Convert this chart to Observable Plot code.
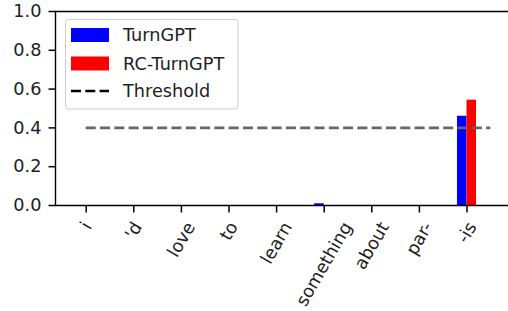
<!DOCTYPE html>
<html>
<head>
<meta charset="utf-8">
<script src="https://cdn.jsdelivr.net/npm/d3@7"></script>
<script src="https://cdn.jsdelivr.net/npm/@observablehq/plot@0.6"></script>
<style>
  html, body { margin: 0; padding: 0; background: #fff; }
  #wrap { position: relative; width: 508px; height: 311px; overflow: hidden; }
  #legend { position: absolute; left: 0; top: 0; }
</style>
</head>
<body>
<div id="wrap"></div>
<script>
const tokens = ["i", "'d", "love", "to", "learn", "something", "about", "par-", "-is"];
const turnGPT = [0, 0, 0, 0, 0, 0.009, 0, 0, 0.46];
const rcTurnGPT = [0, 0, 0, 0, 0, 0, 0, 0, 0.543];
const threshold = 0.4;
const yTicks = [0, 0.2, 0.4, 0.6, 0.8, 1.0];
const seriesNames = ["TurnGPT", "RC-TurnGPT", "Threshold"];
const seriesColors = ["#0000ff", "#ff0000", "#000000"];

const FONT = "DejaVu Sans";
const FS = 17.7;
const barW = 0.2;
const xDomain = [-0.645, 8.935];
const xRange = [55, 511];
const yRange = [205, 11];
const TICK = 7;
const tickDy = TICK / (yRange[0] - yRange[1]);
const tickDx = TICK * (xDomain[1] - xDomain[0]) / (xRange[1] - xRange[0]);

const rows = tokens.map((t, i) => ({i, token: t, a: turnGPT[i], b: rcTurnGPT[i]}));

const ctx = document.createElement("canvas").getContext("2d");
ctx.font = `${FS}px "${FONT}"`;
const lineH = FS * 1.16;
const s60 = Math.sin(Math.PI / 3), c60 = Math.cos(Math.PI / 3);

const labelMarks = rows.map(r => {
  const w = ctx.measureText(r.token).width;
  const bh = w * s60 + lineH * c60;
  return Plot.text([r], {
    x: "i", y: () => 0, text: "token",
    rotate: -60, textAnchor: "middle", lineAnchor: "middle",
    dy: 13 + bh / 2, fontSize: FS, fill: "#222"
  });
});

const xTickRows = rows.map(r => ({x: r.i, y1: 0, y2: -tickDy}));
const yTickRows = yTicks.map(v => ({y: v, x1: xDomain[0], x2: xDomain[0] - tickDx}));

const chart = Plot.plot({
  width: 508, height: 311,
  marginLeft: 55, marginRight: 0, marginTop: 11, marginBottom: 106,
  style: {fontFamily: FONT, fontSize: FS + "px", color: "#222", background: "#fff", overflow: "visible"},
  x: {type: "linear", domain: xDomain, range: xRange, axis: null, label: null},
  y: {domain: [0, 1], range: yRange, ticks: yTicks, tickFormat: d3.format(".1f"), tickSize: 0, tickPadding: 14, label: null},
  marks: [
    Plot.rectY(rows, {x1: d => d.i - barW, x2: d => d.i, y1: 0, y2: "a", fill: seriesColors[0]}),
    Plot.rectY(rows, {x1: d => d.i, x2: d => d.i + barW, y1: 0, y2: "b", fill: seriesColors[1]}),
    Plot.ruleY([threshold], {x1: 0, x2: tokens.length - 0.5, stroke: "#666", strokeWidth: 2.7, strokeDasharray: "10,4.3"}),
    Plot.ruleY([0, 1], {x1: xDomain[0], x2: xDomain[1], stroke: "#000", strokeWidth: 1.4}),
    Plot.ruleX([xDomain[0]], {y1: 0, y2: 1, stroke: "#000", strokeWidth: 1.4}),
    Plot.link(xTickRows, {x1: "x", x2: "x", y1: "y1", y2: "y2", stroke: "#000", strokeWidth: 1.5}),
    Plot.link(yTickRows, {x1: "x1", x2: "x2", y1: "y", y2: "y", stroke: "#000", strokeWidth: 1.5}),
    ...labelMarks
  ]
});
document.getElementById("wrap").appendChild(chart);

const lg = d3.select("#wrap").append("svg").attr("id", "legend")
  .attr("width", 508).attr("height", 311)
  .style("font-family", FONT).style("font-size", FS + "px");
lg.append("rect").attr("x", 65.5).attr("y", 19.5).attr("width", 172.5).attr("height", 89.5)
  .attr("rx", 3).attr("fill", "rgba(255,255,255,0.8)").attr("stroke", "#cccccc").attr("stroke-width", 1);
const rowY = [35, 63.5, 91];
seriesNames.forEach((name, k) => {
  if (k < 2) {
    lg.append("rect").attr("x", 71).attr("y", rowY[k] - 7).attr("width", 38).attr("height", 14)
      .attr("fill", seriesColors[k]);
  } else {
    lg.append("line").attr("x1", 71).attr("x2", 109).attr("y1", rowY[k]).attr("y2", rowY[k])
      .attr("stroke", seriesColors[k]).attr("stroke-width", 2.7).attr("stroke-dasharray", "10,4.3");
  }
  lg.append("text").attr("x", 123).attr("y", rowY[k]).attr("dy", "0.35em")
    .attr("fill", "#222").text(name);
});
</script>
</body>
</html>
